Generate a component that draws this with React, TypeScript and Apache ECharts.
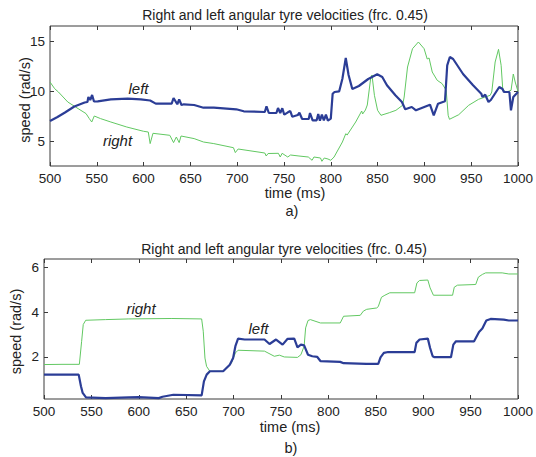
import React, { useEffect, useRef } from "react";
import * as echarts from "echarts";

const TITLE = "Right and left angular tyre velocities (frc. 0.45)";
const X_TICKS_MIN = 500;
const X_TICKS_MAX = 1000;
const TOP_Y_TICKS = [5, 10, 15];
const BOTTOM_Y_TICKS = [2, 4, 6];

// Top chart (a): left tyre (blue)
const topLeft: [number, number][] = [
  [500, 7.0], [508, 7.4], [516, 7.85], [526, 8.45], [537, 8.85], [540, 8.9], [541, 9.4], [543, 9.1],
  [545, 9.6], [547, 8.95], [551, 8.97], [565, 9.17], [583, 9.23], [597, 9.17], [607, 9.05], [613, 8.74],
  [630, 8.74], [632, 9.3], [636, 8.67], [638, 9.17], [640.5, 8.6], [643, 8.67], [654, 8.6], [664, 8.33],
  [675, 8.33], [699, 8.17], [707, 7.97], [729.5, 7.9], [731.3, 8.47], [733.8, 7.8], [741.9, 7.8],
  [743.6, 8.3], [746, 7.8], [748.2, 8.27], [750.3, 7.63], [754.2, 7.87], [756.7, 8.0], [758.8, 7.43],
  [764.8, 7.6], [766.5, 7.83], [769.4, 7.2], [776.4, 7.2], [777.8, 7.8], [780.6, 7.07], [784.9, 7.07],
  [786.6, 7.7], [788.4, 7.03], [790.5, 7.63], [792.6, 7.07], [794.8, 7.63], [796.9, 7.03], [800, 7.23],
  [802, 9.73], [804, 9.9], [809, 9.97], [812.4, 11.23], [816, 13.3], [819, 11.6], [823, 10.2],
  [830, 10.5], [840, 11.2], [849.6, 11.67], [855, 11.4], [860, 10.57], [869, 9.57], [876, 8.9],
  [879.5, 8.17], [886.5, 8.4], [891, 8.07], [906, 8.63], [910, 7.57], [914.6, 8.73], [922, 8.97],
  [924.4, 12.57], [927.2, 13.4], [930.7, 13.2], [941.3, 11.7], [952, 10.57], [960.8, 9.73], [962, 9.4],
  [965, 9.63], [968.5, 8.9], [971, 9.1], [980, 10.4], [983.5, 10.2], [985, 9.9], [990.8, 9.9],
  [992.5, 8.07], [995, 9.4], [1000, 9.9],
];

// Top chart (a): right tyre (green)
const topRight: [number, number][] = [
  [500, 10.9], [505, 10.23], [509, 9.9], [519, 8.9], [530, 8.24], [538.5, 7.74], [542, 7.24], [544.6, 6.9],
  [547.3, 7.5], [554, 7.24], [565, 6.9], [582, 6.4], [600, 5.97], [605, 5.9], [607, 4.74], [610, 5.77],
  [628, 5.57], [632, 4.84], [635, 5.4], [638, 4.84], [640, 5.5], [654, 5.24], [664, 4.9], [675, 4.74],
  [696, 4.33], [698, 3.84], [701, 4.2], [729.5, 3.8], [731, 3.5], [733, 3.75], [744, 3.77], [746, 3.4],
  [748, 3.77], [754, 3.4], [757, 3.6], [766, 3.5], [776, 3.4], [780, 3.07], [782, 3.4], [789, 3.3],
  [790.5, 2.97], [793, 3.3], [797, 3.2], [800, 3.07], [803.5, 3.4], [812.4, 4.9], [816, 5.73],
  [817.5, 5.6], [826.6, 6.9], [833, 8.0], [834, 7.7], [837, 8.1], [839, 8.6], [842.5, 11.2], [844, 11.6],
  [846.6, 9.57], [850, 8.07], [853.6, 7.57], [862.5, 7.83], [869.6, 8.07], [876.7, 8.57], [878.4, 9.4],
  [882, 12.4], [887.3, 14.23], [893.6, 14.9], [899.7, 14.23], [903, 13.2], [905, 13.3], [908.4, 11.9],
  [913.7, 11.07], [919, 10.73], [923.3, 10.07], [925.4, 7.57], [926.8, 7.17], [936.7, 7.63],
  [947.3, 8.57], [957.9, 9.17], [970.3, 9.57], [972, 9.9], [975.6, 12.9], [979.2, 14.17], [982, 12.57],
  [983.8, 10.07], [988, 9.9], [992.6, 10.07], [995, 11.7], [997, 10.9], [1000, 9.97],
];

// Bottom chart (b): left tyre (blue)
const bottomLeft: [number, number][] = [
  [500, 1.21], [536.6, 1.21], [539, 0.69], [540.8, 0.39], [544.3, 0.19], [565, 0.16], [589.5, 0.19],
  [600, 0.2], [621, 0.16], [625, 0.22], [636.5, 0.31], [666.3, 0.28], [668.7, 0.91], [671.6, 1.21],
  [675, 1.36], [689, 1.36], [696, 1.65], [699.5, 1.95], [701.9, 2.48], [704.7, 2.82], [711.7, 2.78],
  [732.6, 2.78], [737.9, 2.58], [744.8, 2.78], [751.7, 2.55], [757, 2.81], [764, 2.82], [767.4, 2.43],
  [771, 2.55], [774.4, 2.52], [778.5, 2.1], [783, 2.03], [788.3, 2.0], [791.8, 1.81], [812.5, 1.78],
  [816, 1.72], [840, 1.69], [852.6, 1.69], [855, 1.98], [858.5, 2.18], [863, 2.22], [891, 2.22],
  [892.8, 2.63], [896.2, 2.78], [904.9, 2.82], [907.3, 2.4], [910, 2.03], [911.9, 1.99], [929.3, 1.99],
  [931.8, 2.55], [934.6, 2.7], [953.7, 2.7], [958.9, 3.12], [962.4, 3.27], [966.6, 3.63], [971.1, 3.7],
  [985, 3.67], [990.3, 3.63], [1000, 3.63],
];

// Bottom chart (b): right tyre (green)
const bottomRight: [number, number][] = [
  [500, 1.66], [519, 1.67], [537.3, 1.67], [539.7, 2.7], [541.4, 3.45], [544, 3.64], [565, 3.67],
  [589.5, 3.7], [634.9, 3.72], [666.3, 3.7], [668, 3.15], [669.8, 1.95], [671.5, 1.58], [675, 1.36],
  [689, 1.36], [694.2, 1.58], [697.7, 1.73], [701.9, 2.18], [704.7, 2.3], [732.6, 2.26], [743, 2.03],
  [748.3, 2.08], [753.5, 2.0], [767.4, 1.98], [771, 2.1], [774.4, 2.48], [776, 3.3], [778.5, 3.63],
  [781, 3.67], [791.6, 3.52], [812.5, 3.52], [816, 3.82], [833.6, 3.86], [836.9, 4.05], [840.4, 4.13],
  [850.9, 4.19], [852.6, 4.25], [856, 4.67], [859.6, 4.76], [864.8, 4.87], [891, 4.87], [893.4, 5.31],
  [896.2, 5.42], [904.9, 5.44], [907.3, 5.09], [910.8, 4.76], [931, 4.76], [932.8, 5.12], [936.2, 5.21],
  [955.4, 5.24], [958.2, 5.57], [962.4, 5.69], [965.9, 5.76], [983.3, 5.76], [990.3, 5.71], [1000, 5.71],
];

const FONT = "'Liberation Sans', Arial, Helvetica, sans-serif";
const TEXT = "#222";
const FRAME = "#3a3a3a";
const BLUE = "#2b3d96";
const GREEN = "#62c862";

const plain = (v: number) => String(v);

function xAxes(gridIndex: number) {
  const base = {
    type: "value" as const,
    gridIndex,
    min: X_TICKS_MIN,
    max: X_TICKS_MAX,
    interval: 50,
    splitLine: { show: false },
    axisLine: { show: false },
  };
  return [
    {
      ...base,
      position: "bottom",
      axisTick: { show: true, inside: true, length: 4, lineStyle: { color: FRAME } },
      axisLabel: { color: TEXT, fontSize: 13.5, fontFamily: FONT, margin: 5, hideOverlap: false, formatter: plain },
    },
    {
      ...base,
      position: "top",
      axisTick: { show: true, inside: true, length: 4, lineStyle: { color: FRAME } },
      axisLabel: { show: false },
    },
  ];
}

function yAxes(gridIndex: number, min: number, max: number, ticks: number[]) {
  const base = {
    type: "value" as const,
    gridIndex,
    min,
    max,
    splitLine: { show: false },
    axisLine: { show: false },
  };
  return [
    {
      ...base,
      position: "left",
      axisTick: { show: true, inside: true, length: 4, customValues: ticks, lineStyle: { color: FRAME } },
      axisLabel: { color: TEXT, fontSize: 13.5, fontFamily: FONT, margin: 5, customValues: ticks, formatter: plain },
    },
    {
      ...base,
      position: "right",
      axisTick: { show: true, inside: true, length: 4, customValues: ticks, lineStyle: { color: FRAME } },
      axisLabel: { show: false, customValues: ticks },
    },
  ];
}

function txt(text: string, x: number, y: number, size: number, extra: any = {}) {
  return {
    type: "text",
    x,
    y,
    silent: true,
    ...extra,
    style: {
      text,
      fill: TEXT,
      fontSize: size,
      fontFamily: FONT,
      align: "center",
      verticalAlign: "middle",
      ...(extra.style || {}),
    },
  };
}

export default function App() {
  const ref = useRef<HTMLDivElement>(null);
  useEffect(() => {
    if (!ref.current) return;
    const chart = echarts.init(ref.current, undefined, { renderer: "svg" });
    const option: any = {
      animation: false,
      backgroundColor: "#fff",
      grid: [
        { left: 50, top: 26, width: 472, height: 140, show: true, borderColor: FRAME, borderWidth: 1, backgroundColor: "transparent" },
        { left: 44, top: 259, width: 478.5, height: 140, show: true, borderColor: FRAME, borderWidth: 1, backgroundColor: "transparent" },
      ],
      xAxis: [...xAxes(0), ...xAxes(1)],
      yAxis: [...yAxes(0, 2.5, 16.5, TOP_Y_TICKS), ...yAxes(1, 0.12, 6.38, BOTTOM_Y_TICKS)],
      series: [
        { name: "right a", type: "line", xAxisIndex: 0, yAxisIndex: 0, data: topRight, showSymbol: false, lineStyle: { color: GREEN, width: 1 }, z: 2 },
        { name: "left a", type: "line", xAxisIndex: 0, yAxisIndex: 0, data: topLeft, showSymbol: false, lineStyle: { color: BLUE, width: 2.2 }, z: 3 },
        { name: "right b", type: "line", xAxisIndex: 2, yAxisIndex: 2, data: bottomRight, showSymbol: false, lineStyle: { color: GREEN, width: 1 }, z: 2 },
        { name: "left b", type: "line", xAxisIndex: 2, yAxisIndex: 2, data: bottomLeft, showSymbol: false, lineStyle: { color: BLUE, width: 2.2 }, z: 3 },
      ],
      graphic: [
        txt(TITLE, 285, 15, 14),
        txt(TITLE, 284, 248.5, 14),
        txt("time (ms)", 295, 193, 14.5),
        txt("time (ms)", 290, 426.5, 14.5),
        txt("a)", 292, 211, 14.5),
        txt("b)", 291, 447.5, 14.5),
        txt("speed (rad/s)", 25, 100, 14.5, { rotation: Math.PI / 2 }),
        txt("speed (rad/s)", 16, 331.5, 14.5, { rotation: Math.PI / 2 }),
        txt("left", 138.5, 88.5, 15, { style: { fontStyle: "italic" } }),
        txt("right", 117.5, 140.5, 15, { style: { fontStyle: "italic" } }),
        txt("right", 141, 308.5, 15, { style: { fontStyle: "italic" } }),
        txt("left", 258.5, 328, 15, { style: { fontStyle: "italic" } }),
      ],
    };
    chart.setOption(option);
    return () => chart.dispose();
  }, []);
  return (
    <div
      ref={ref}
      style={{ position: "absolute", left: 0, top: 0, width: 536, height: 457, background: "#fff" }}
    />
  );
}
